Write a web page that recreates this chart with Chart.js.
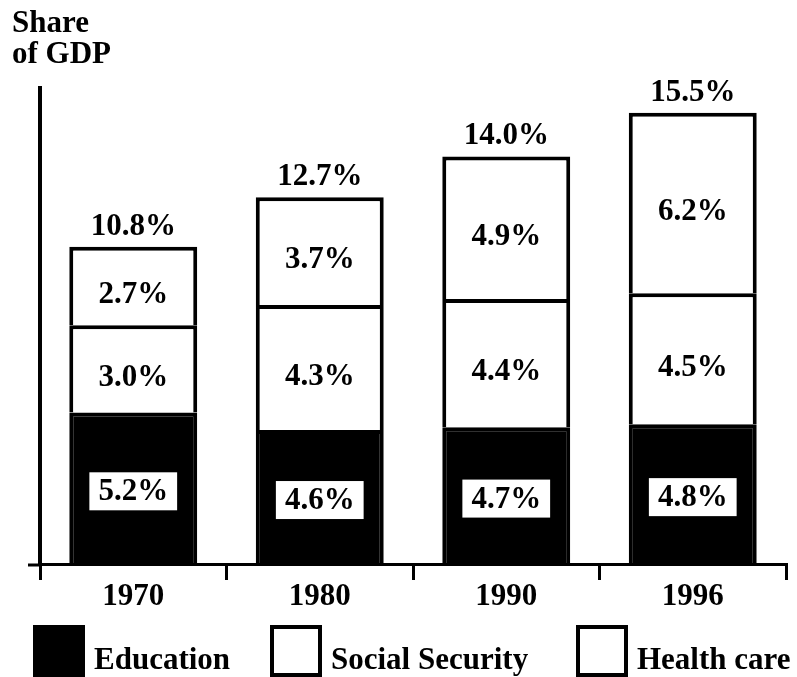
<!DOCTYPE html>
<html>
<head>
<meta charset="utf-8">
<script src="https://cdn.jsdelivr.net/npm/chart.js@4/dist/chart.umd.min.js"></script>
<style>
  html, body { margin: 0; padding: 0; background: #fff; }
  #wrap { width: 797px; height: 677px; position: relative; }
</style>
</head>
<body>
<div id="wrap"><canvas id="gdpChart"></canvas></div>
<script>
const years = ['1970', '1980', '1990', '1996'];
const education = [5.2, 4.6, 4.7, 4.8];
const socialSecurity = [3.0, 4.3, 4.4, 4.5];
const healthCare = [2.7, 3.7, 4.9, 6.2];
const totals = [10.8, 12.7, 14.0, 15.5];
const titleLines = ['Share', 'of GDP'];

const FONT = '"Liberation Serif", "Times New Roman", serif';

const labelPlugin = {
    id: 'segLabels',
    afterDatasetsDraw(chart) {
        const ctx = chart.ctx;
        ctx.save();
        ctx.font = 'bold 31px ' + FONT;
        ctx.textAlign = 'center';
        ctx.textBaseline = 'middle';
        chart.data.datasets.forEach((ds, di) => {
            chart.getDatasetMeta(di).data.forEach((bar, i) => {
                const txt = ds.data[i].toFixed(1) + '%';
                const mid = (bar.y + bar.base) / 2;
                if (di === 0) {
                    const w = ctx.measureText(txt).width + 18;
                    ctx.fillStyle = '#fff';
                    ctx.fillRect(bar.x - w / 2, mid - 16, w, 38);
                    ctx.fillStyle = '#000';
                    ctx.fillText(txt, bar.x, mid + 4);
                } else {
                    ctx.fillStyle = '#000';
                    ctx.fillText(txt, bar.x, mid + 9);
                }
            });
        });
        // totals above each stack
        const last = chart.data.datasets.length - 1;
        chart.getDatasetMeta(last).data.forEach((bar, i) => {
            ctx.fillText(totals[i].toFixed(1) + '%', bar.x, bar.y - 20);
        });
        ctx.restore();
    },
    afterDraw(chart) {
        const ctx = chart.ctx;
        const area = chart.chartArea;
        ctx.save();
        // x axis runs a little past the y axis on the left
        ctx.strokeStyle = '#000';
        ctx.lineWidth = 3;
        ctx.beginPath();
        ctx.moveTo(area.left - 12, area.bottom + 1);
        ctx.lineTo(area.left, area.bottom + 1);
        ctx.stroke();

        // axis title
        ctx.fillStyle = '#000';
        ctx.font = 'bold 31px ' + FONT;
        ctx.textAlign = 'left';
        ctx.textBaseline = 'alphabetic';
        titleLines.forEach((t, i) => ctx.fillText(t, 12, 32 + i * 31));

        // legend
        const legendX = [33, 270, 576];
        chart.data.datasets.forEach((ds, di) => {
            const x = legendX[di];
            ctx.fillStyle = ds.backgroundColor;
            ctx.fillRect(x, 625, 52, 52);
            ctx.strokeStyle = '#000';
            ctx.lineWidth = 4;
            ctx.strokeRect(x + 2, 627, 48, 48);
            ctx.fillStyle = '#000';
            ctx.fillText(ds.label, x + 61, 669);
        });
        ctx.restore();
    }
};

const initChart = () => {
    const ctx = document.getElementById('gdpChart').getContext('2d');
    return new Chart(ctx, {
        type: 'bar',
        data: {
            labels: years,
            datasets: [
                { label: 'Education', data: education, backgroundColor: '#000', borderColor: '#000', borderWidth: 4 },
                { label: 'Social Security', data: socialSecurity, backgroundColor: '#fff', borderColor: '#000', borderWidth: 4 },
                { label: 'Health care', data: healthCare, backgroundColor: '#fff', borderColor: '#000', borderWidth: 4 }
            ]
        },
        options: {
            responsive: true,
            maintainAspectRatio: false,
            animation: false,
            layout: { padding: { top: 88, right: 11, left: 0, bottom: 0 } },
            datasets: {
                bar: { categoryPercentage: 1, barPercentage: 0.686 }
            },
            scales: {
                x: {
                    stacked: true,
                    afterFit: s => { s.height = 113; },
                    grid: { display: true, offset: true, drawOnChartArea: false, tickLength: 16, color: '#000', lineWidth: 3 },
                    border: { display: true, color: '#000', width: 3 },
                    ticks: { color: '#000', padding: -2, font: { family: FONT, size: 31, weight: 'bold' } }
                },
                y: {
                    stacked: true,
                    min: 0,
                    max: 16.35,
                    afterFit: s => { s.width = 40; },
                    grid: { display: false },
                    border: { display: true, color: '#000', width: 4 },
                    ticks: { display: false }
                }
            },
            plugins: {
                legend: { display: false },
                tooltip: { enabled: false }
            }
        },
        plugins: [labelPlugin]
    });
};

document.addEventListener('DOMContentLoaded', () => {
    initChart();
});
</script>
</body>
</html>
